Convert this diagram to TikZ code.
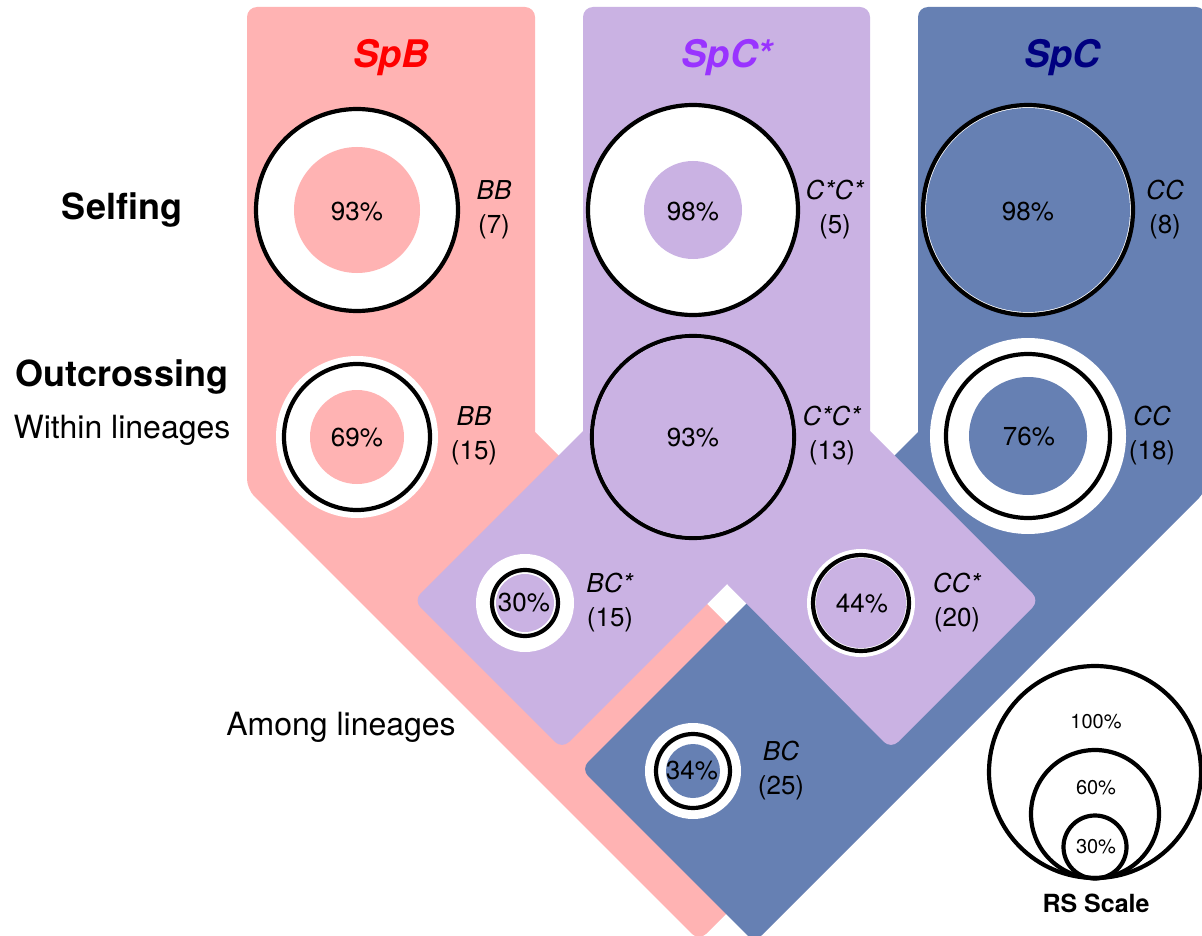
\documentclass[tikz,border=0pt]{standalone}
\usepackage{fontspec}
\setmainfont{TeX Gyre Heros}
\usepackage{tikz}
\usepackage{xcolor}
\definecolor{PinkB}{HTML}{FFB3B3}
\definecolor{LilacCs}{HTML}{CAB2E3}
\definecolor{BlueC}{HTML}{6680B3}
\definecolor{RedB}{HTML}{FF0000}
\definecolor{VioletCs}{HTML}{9933FF}
\definecolor{NavyC}{HTML}{000080}
\newcommand\spb{SpB}
\newcommand\spcs{SpC*}
\newcommand\spc{SpC}
\tikzstyle{ttl} = [font=\fontsize{38}{45}\selectfont\bfseries\itshape, anchor=base]
\tikzstyle{head} = [font=\fontsize{36}{43}\selectfont\bfseries, anchor=base]
\tikzstyle{sub} = [font=\fontsize{32}{38}\selectfont, anchor=base]
\tikzstyle{pct} = [font=\fontsize{26}{31}\selectfont, inner sep=0pt]
\tikzstyle{cnt} = [font=\fontsize{26}{34}\selectfont, align=center, inner sep=0pt]
\tikzstyle{scl} = [font=\fontsize{20}{24}\selectfont, inner sep=0pt]
\tikzstyle{ring} = [draw=black, line width=4.2pt]
\tikzset{every picture/.style={x=1pt, y=-1pt}}

\begin{document}
\begin{tikzpicture}
\useasboundingbox (0,0) rectangle (1202,936);
\clip (0,0) rectangle (1202,936);
% lineages
\fill[PinkB] (535,432) [rounded corners=10pt] -- (535,7) -- (247,7) -- (247,489) -- (699,941) -- (871.5,768.5) [sharp corners] -- cycle;
\fill[BlueC] (918,432) [rounded corners=10pt] -- (918,7) -- (1206,7) -- (1206,491) -- (754.5,942.5) -- (581,769) [sharp corners] -- cycle;
\fill[LilacCs] (727,584) [rounded corners=10pt] -- (562,749) -- (413.5,600.5) [sharp corners] -- (583,431) [rounded corners=10pt] -- (583,7) -- (870,7) [sharp corners] -- (870,431) [rounded corners=10pt] -- (1039.5,600.5) -- (891,749) [sharp corners] -- cycle;
\node[ttl, text=RedB] (tb) at (391,68) {\spb};
\node[ttl, text=VioletCs] (tcs) at (727,68) {\spcs};
\node[ttl, text=NavyC] (tc) at (1062,68) {\spc};
\node[head] (self) at (122,219) {Selfing};
\node[head] (outx) at (122,386) {Outcrossing};
\node[sub] (within) at (122,438) {Within lineages};
\node[sub] (among) at (341,735) {Among lineages};
% selfing
\fill[white] (357,210) circle (101pt);
\draw[ring] (357,210) circle (101pt);
\fill[PinkB] (357,210) circle (63pt);
\node[pct] (pbb) at (357,212) {93\%};
\node[cnt] (nbb) at (494,210) {\textit{BB}\\(7)};
\fill[white] (693,210) circle (105pt);
\draw[ring] (693,210) circle (105pt);
\fill[LilacCs] (693,210) circle (49pt);
\node[pct] (pcscs) at (693,212) {98\%};
\node[cnt] (ncscs) at (835,210) {\textit{C*C*}\\(5)};
\fill[white] (1028,210) circle (105pt);
\draw[ring] (1028,210) circle (105pt);
\fill[BlueC] (1028,210) circle (102pt);
\node[pct] (pcc) at (1028,212) {98\%};
\node[cnt] (ncc) at (1165,210) {\textit{CC}\\(8)};
% outcrossing within lineages
\fill[white] (357,437) circle (81pt);
\draw[ring] (357,437) circle (73pt);
\fill[PinkB] (357,437) circle (47pt);
\node[pct] (pbb2) at (357,438) {69\%};
\node[cnt] (nbb2) at (474,436) {\textit{BB}\\(15)};
\fill[white] (693,437) circle (101pt);
\draw[ring] (693,437) circle (101pt);
\fill[LilacCs] (693,437) circle (99pt);
\node[pct] (pcscs2) at (693,438) {93\%};
\node[cnt] (ncscs2) at (832,436) {\textit{C*C*}\\(13)};
\fill[white] (1028,436) circle (98pt);
\draw[ring] (1028,436) circle (82pt);
\fill[BlueC] (1028,436) circle (59pt);
\node[pct] (pcc2) at (1029,437) {76\%};
\node[cnt] (ncc2) at (1152,436) {\textit{CC}\\(18)};
% outcrossing among lineages
\fill[white] (525,603) circle (49pt);
\draw[ring] (525,603) circle (33pt);
\fill[LilacCs] (525,603) circle (29pt);
\node[pct] (pbcs) at (524,603) {30\%};
\node[cnt] (nbcs) at (610,603) {\textit{BC*}\\(15)};
\fill[white] (861,603) circle (54pt);
\draw[ring] (861,603) circle (48pt);
\fill[LilacCs] (861,603) circle (45pt);
\node[pct] (pccs) at (862,604) {44\%};
\node[cnt] (nccs) at (957,603) {\textit{CC*}\\(20)};
\fill[white] (693,771) circle (48pt);
\draw[ring] (693,771) circle (37pt);
\fill[BlueC] (693,771) circle (27pt);
\node[pct] (pbc) at (692,771) {34\%};
\node[cnt] (nbc) at (781,771) {\textit{BC}\\(25)};
% scale
\draw[ring] (1095,772) circle (106pt);
\draw[ring] (1095,814) circle (64pt);
\draw[ring] (1095,847) circle (31.5pt);
\node[scl] (s100) at (1096,722) {100\%};
\node[scl] (s60) at (1096,788) {60\%};
\node[scl] (s30) at (1096,847) {30\%};
\node[font=\fontsize{25}{30}\selectfont\bfseries, anchor=base] (rs) at (1096,912) {RS Scale};
\end{tikzpicture}
\end{document}
